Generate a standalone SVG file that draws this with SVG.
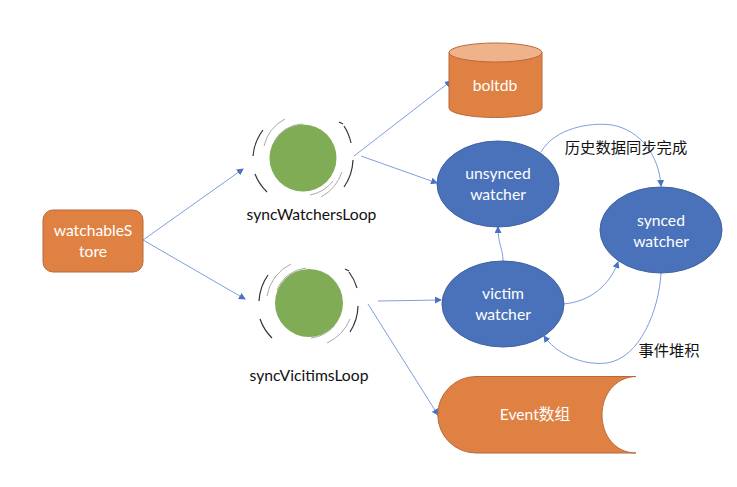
<svg xmlns="http://www.w3.org/2000/svg" width="737" height="487" viewBox="0 0 737 487">
<style>
text{font-family:Lato,"Noto Sans CJK SC",sans-serif;font-size:15.700px;text-anchor:middle}
.w{fill:#fff}
.k{fill:#111}
.z{font-size:15.300px}
.o{fill:#e08144;stroke:#b8693a;stroke-width:1}
.b{fill:#4a72bb;stroke:#3f639f;stroke-width:1}
.g{fill:#7fac55;stroke:none}
.c{fill:none;stroke:#7d9fdc;stroke-width:1;marker-end:url(#a)}
.d{fill:none;stroke:#333;stroke-width:1.200}
.l{fill:none;stroke:#aaa;stroke-width:1}
</style>
<defs>
<marker id="a" markerUnits="userSpaceOnUse" markerWidth="7" markerHeight="7" refX="6" refY="3.500" orient="auto"><path d="M0 0L7 3.500L0 7Z" fill="#4a72c4"/></marker>
</defs>
<rect width="737" height="487" fill="#fff"/>
<g id="connectors">
<path class="c" d="M143 240L243 169"/>
<path class="c" d="M143 240L245 299"/>
<path class="c" d="M354 156L451 81"/>
<path class="c" d="M361 156L437 183"/>
<path class="c" d="M378 301L441 300"/>
<path class="c" d="M368 304L438 415"/>
<path class="c" d="M541 152C555 128 590 122 612 125C640 130 659 155 661 186"/>
<path class="c" d="M503 261C503 248 498 245 498 227"/>
<path class="c" d="M563 304C590 302 610 285 618 262"/>
<path class="c" d="M661 273C659 310 640 358 607 363C580 366 555 352 544 336"/>
</g>
<g id="watchableStore">
<rect class="o" x="43" y="210" width="100" height="62" rx="10"/>
<text class="w" x="93" y="236">watchableS</text>
<text class="w" x="93" y="257">tore</text>
</g>
<g id="syncWatchersLoop">
<circle class="g" cx="303" cy="158" r="33.500"/>
<path class="l" d="M274 142A33 33 0 0 1 303 124M264 146A41 41 0 0 1 285 119M333 181A38 38 0 0 1 310 195M342 172A45 45 0 0 1 321 197"/>
<path class="d" d="M253 156A50 50 0 0 1 263 130M255 174A50 50 0 0 0 267 192M343 124L339 122M351 143A50 50 0 0 0 344 126M353 160A50 50 0 0 1 344 187"/>
<text class="k" x="311.500" y="220">syncWatchersLoop</text>
</g>
<g id="syncVicitimsLoop">
<circle class="g" cx="309" cy="303" r="34"/>
<path class="l" d="M277 290A35 35 0 0 1 306 268M267 296A43 43 0 0 1 291 264M335 325A36 36 0 0 1 311 338M350 319A45 45 0 0 1 327 343"/>
<path class="d" d="M259 301A50 50 0 0 1 268 275M260 319A50 50 0 0 0 272 338M345 269L349 271M357 288A50 50 0 0 0 349 272M358 306A50 50 0 0 1 350 332"/>
<text class="k" x="309" y="381">syncVicitimsLoop</text>
</g>
<g id="boltdb">
<path class="o" d="M449 52.500V108A46.500 9.500 0 0 0 542 108V52.500Z"/>
<ellipse cx="495.500" cy="52.500" rx="46.500" ry="9.500" fill="#efb28a" stroke="#b8693a"/>
<text class="w" x="495" y="91">boltdb</text>
</g>
<g id="unsynced">
<ellipse class="b" cx="498" cy="184" rx="61" ry="43"/>
<text class="w" x="498" y="179">unsynced</text>
<text class="w" x="498" y="200">watcher</text>
</g>
<g id="synced">
<ellipse class="b" cx="661" cy="230" rx="61" ry="43"/>
<text class="w" x="661" y="226">synced</text>
<text class="w" x="661" y="247">watcher</text>
</g>
<g id="victim">
<ellipse class="b" cx="503" cy="304" rx="61" ry="43"/>
<text class="w" x="503" y="299">victim</text>
<text class="w" x="503" y="320">watcher</text>
</g>
<g id="event">
<path class="o" d="M636 376.500H476A38.250 38.250 0 0 0 476 453H636C615 453 602 435 602 415C602 395 615 377 636 376.500Z"/>
<text class="w" x="535" y="420">Event数组</text>
</g>
<text class="k z" x="626" y="153">历史数据同步完成</text>
<text class="k z" x="669" y="356">事件堆积</text>
</svg>
